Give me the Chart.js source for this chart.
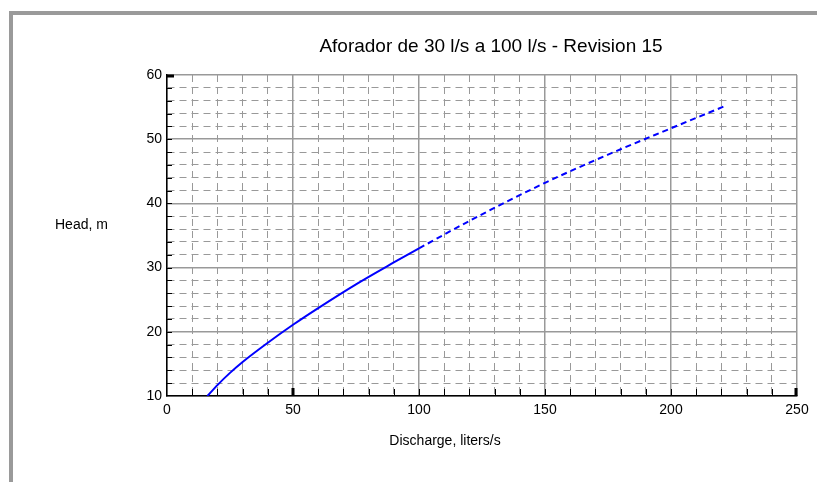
<!DOCTYPE html>
<html>
<head>
<meta charset="utf-8">
<script src="https://cdn.jsdelivr.net/npm/chart.js@4.4.0/dist/chart.umd.min.js"></script>
<style>
  body { margin: 0; background: #fff; }
  #wrap { position: relative; width: 817px; height: 482px; overflow: hidden; }
  #frame { position: absolute; left: 9px; top: 11px; right: -10px; bottom: -10px;
           border-top: 4px solid #9a9a9a; border-left: 4px solid #9a9a9a; }
  canvas { position: absolute; left: 0; top: 0; }
</style>
</head>
<body>
<div id="wrap">
  <div id="frame"></div>
  <canvas id="chart" width="817" height="482"></canvas>
</div>
<script>
// discharge (l/s) vs head (m)
const discharge = [16, 20, 25, 30, 40, 50, 60, 75, 90, 100, 125, 150, 175, 200, 221];
const head = [10.0, 11.7, 13.6, 15.3, 18.3, 21.1, 23.7, 27.4, 30.8, 33.0, 38.3, 43.2, 47.6, 51.7, 55.1];

const xMajor = [0, 50, 100, 150, 200, 250];
const yMajor = [10, 20, 30, 40, 50, 60];

const titleText = "Aforador de 30 l/s a 100 l/s - Revision 15";
const xTitle = "Discharge, liters/s";
const yTitle = "Head, m";

const fontFam = "'Liberation Sans', Arial, sans-serif";

const gridDash = (ctx, major) => {
    if (!ctx.tick) return [];
    return major.includes(ctx.tick.value) ? [] : [7, 5];
};

// title, horizontal y label and the small inside tick marks
const extras = {
    id: "extras",
    afterDraw(chart) {
        const c = chart.ctx;
        const x = chart.scales.x, y = chart.scales.y;
        const area = chart.chartArea;
        c.save();
        c.fillStyle = "#000";
        c.font = "19px " + fontFam;
        c.textAlign = "center";
        c.textBaseline = "middle";
        c.fillText(titleText, 491, 47);
        c.font = "14px " + fontFam;
        c.textAlign = "left";
        c.fillText(yTitle, 55, 225);
        c.textAlign = "center";
        c.fillText(xTitle, 445, 441);

        c.strokeStyle = "#000";
        c.lineWidth = 1;
        c.beginPath();
        for (let v = 10; v < 250; v += 10) {
            const px = Math.round(x.getPixelForValue(v)) + 0.5;
            c.moveTo(px, area.bottom);
            c.lineTo(px, area.bottom - 7);
        }
        for (let v = 12; v < 60; v += 2) {
            const py = Math.round(y.getPixelForValue(v)) + 0.5;
            c.moveTo(area.left, py);
            c.lineTo(area.left + 5, py);
        }
        c.stroke();
        c.lineWidth = 3;
        c.beginPath();
        let px = x.getPixelForValue(50);
        c.moveTo(px, area.bottom); c.lineTo(px, area.bottom - 8);
        px = x.getPixelForValue(250) - 1;
        c.moveTo(px, area.bottom); c.lineTo(px, area.bottom - 8);
        const py = y.getPixelForValue(60) + 1;
        c.moveTo(area.left, py); c.lineTo(area.left + 7, py);
        c.stroke();
        c.restore();
    }
};

new Chart(document.getElementById("chart"), {
    type: "scatter",
    data: {
        datasets: [{
            data: discharge.map((q, i) => ({ x: q, y: head[i] })),
            showLine: true,
            borderColor: "#0000ff",
            borderWidth: 2,
            pointRadius: 0,
            cubicInterpolationMode: "monotone",
            segment: {
                borderDash: ctx => ctx.p0.parsed.x >= 100 ? [6, 4] : []
            }
        }]
    },
    options: {
        responsive: false,
        animation: false,
        layout: { padding: { left: 0, right: 20, top: 75, bottom: 0 } },
        plugins: { legend: { display: false }, tooltip: { enabled: false } },
        scales: {
            x: {
                type: "linear",
                min: 0, max: 250,
                afterFit: s => { s.height = 86; },
                ticks: {
                    stepSize: 10,
                    autoSkip: false,
                    maxRotation: 0,
                    padding: 6,
                    color: "#000",
                    font: { family: fontFam, size: 14 },
                    callback: v => xMajor.includes(v) ? String(v) : ""
                },
                grid: {
                    drawTicks: false,
                    color: "#999",
                    lineWidth: ctx => ctx.tick && xMajor.includes(ctx.tick.value) ? 1.5 : 1
                },
                border: { color: "#000", width: 1.5, dash: ctx => gridDash(ctx, xMajor) }
            },
            y: {
                type: "linear",
                min: 10, max: 60,
                afterFit: s => { s.width = 167; },
                ticks: {
                    stepSize: 2,
                    autoSkip: false,
                    padding: 5,
                    color: "#000",
                    font: { family: fontFam, size: 14 },
                    callback: v => yMajor.includes(v) ? String(v) : ""
                },
                grid: {
                    drawTicks: false,
                    color: "#999",
                    lineWidth: ctx => ctx.tick && yMajor.includes(ctx.tick.value) ? 1.5 : 1
                },
                border: { color: "#000", width: 1.5, dash: ctx => gridDash(ctx, yMajor) }
            }
        }
    },
    plugins: [extras]
});
</script>
</body>
</html>
